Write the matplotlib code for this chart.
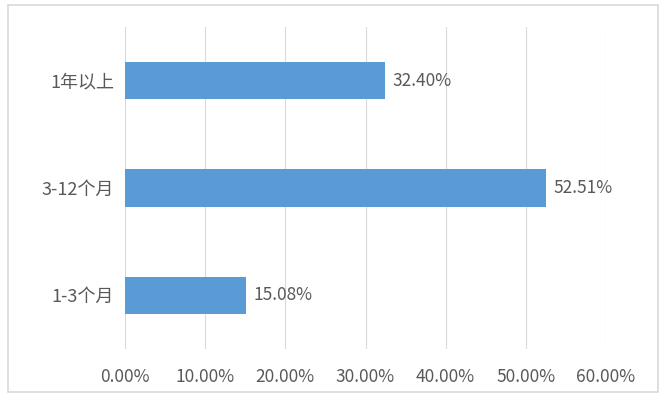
import matplotlib.pyplot as plt
from matplotlib.patches import Rectangle
from matplotlib.ticker import FuncFormatter

plt.rcParams['font.family'] = ['Noto Sans CJK SC', 'DejaVu Sans']

categories = ['1-3个月', '3-12个月', '1年以上']
values = [15.08, 52.51, 32.40]
xticks = [0, 10, 20, 30, 40, 50, 60]

bar_color = '#5B9BD5'
text_color = '#595959'

fig = plt.figure(figsize=(6.68, 3.99), dpi=100)
ax = fig.add_axes([125 / 668, 1 - 349 / 399, (606 - 125) / 668, (349 - 27) / 399])

bars = ax.barh(categories, values, height=0.35, color=bar_color, zorder=3)
for b, v in zip(bars, values):
    ax.text(b.get_width() + 0.9, b.get_y() + b.get_height() / 2, f'{v:.2f}%',
            va='center', ha='left', fontsize=12.5, color=text_color)

ax.set_xlim(0, 60)
ax.set_ylim(-0.5, 2.5)
ax.set_xticks(xticks)
ax.xaxis.set_major_formatter(FuncFormatter(lambda x, p: f'{x:.2f}%'))
ax.grid(axis='x', color='#D9D9D9', linewidth=0.8, zorder=0)
for s in ax.spines.values():
    s.set_visible(False)
ax.tick_params(axis='both', length=0, labelsize=12.5, labelcolor=text_color)
ax.tick_params(axis='y', labelsize=13, pad=8)
ax.tick_params(axis='x', pad=14)

# outer frame like the Excel chart area
fig.patches.append(Rectangle((8 / 668, 1 - 392 / 399), 650 / 668, 387 / 399,
                             transform=fig.transFigure, fill=False,
                             edgecolor='#D9D9D9', linewidth=1.2))

fig.savefig('out.png', dpi=100)
